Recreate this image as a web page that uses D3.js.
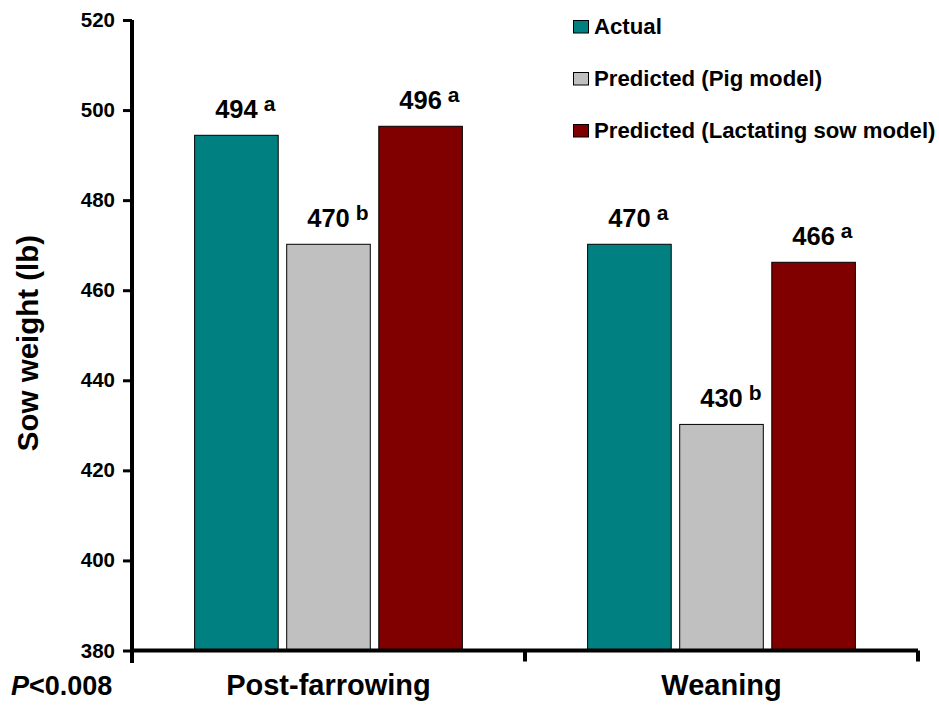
<!DOCTYPE html>
<html>
<head>
<meta charset="utf-8">
<script src="https://cdn.jsdelivr.net/npm/d3@7"></script>
<style>
  html, body { margin: 0; padding: 0; background: #fff; }
  svg { display: block; font-family: "Liberation Sans", Arial, sans-serif; font-weight: bold; }
</style>
</head>
<body>
<svg id="chart" width="939" height="711"></svg>
<script>
// ---- data ----
const categories = ["Post-farrowing", "Weaning"];
const seriesNames = ["Actual", "Predicted (Pig model)", "Predicted (Lactating sow model)"];
const seriesColors = ["#008080", "#C0C0C0", "#800000"];
const actual = [494.4, 470.2];
const predictedPig = [470.2, 430.2];
const predictedSow = [496.4, 466.2];
const valueLabels = [["494", "470", "496"], ["470", "430", "466"]];
const letterLabels = [["a", "b", "a"], ["a", "b", "a"]];
const yTicks = [380, 400, 420, 440, 460, 480, 500, 520];
const yTitle = "Sow weight (lb)";
const pNote = "<0.008";

const seriesValues = [actual, predictedPig, predictedSow];

const svg = d3.select("#chart");

const y = d3.scaleLinear().domain([380, 520]).range([650.5, 20]);
const x0 = d3.scaleBand().domain(categories).range([132, 918]).padding(0);
const x1 = d3.scaleBand().domain(seriesNames).range([0, x0.bandwidth()])
  .paddingInner(0.0923).paddingOuter(0.68);

// bars
const groups = svg.selectAll("g.cat").data(categories).enter().append("g")
  .attr("class", "cat")
  .attr("transform", d => `translate(${x0(d)},0)`);

groups.each(function(cat, ci) {
  const g = d3.select(this);
  const rows = seriesNames.map((s, si) => ({ s, si, v: seriesValues[si][ci] }));
  g.selectAll("rect").data(rows).enter().append("rect")
    .attr("x", d => x1(d.s))
    .attr("y", d => y(d.v))
    .attr("width", x1.bandwidth())
    .attr("height", d => y(380) - y(d.v))
    .attr("fill", d => seriesColors[d.si])
    .attr("stroke", "#000")
    .attr("stroke-width", 1);

  rows.forEach(d => {
    const cx = x1(d.s) + x1.bandwidth() / 2;
    const base = y(d.v) - 17;
    const t = g.append("text")
      .attr("x", cx).attr("y", base)
      .attr("text-anchor", "middle")
      .attr("font-size", 25.5)
      .attr("fill", "#000")
      .text(valueLabels[ci][d.si]);
    const w = t.node().getComputedTextLength();
    g.append("text")
      .attr("x", cx + w / 2 + 6).attr("y", base - 7)
      .attr("font-size", 21)
      .attr("fill", "#000")
      .text(letterLabels[ci][d.si]);
  });
});

// y axis
const yAxis = d3.axisLeft(y).tickValues(yTicks).tickSize(9).tickPadding(8).tickFormat(d3.format("d"));
const ga = svg.append("g").attr("transform", "translate(132,0)").call(yAxis)
  .attr("font-size", 20).attr("font-family", "'Liberation Sans', Arial, sans-serif");
ga.select(".domain").attr("stroke", "#000").attr("stroke-width", 4).attr("d", `M0,${y(520)}V663`);
ga.selectAll(".tick line").attr("stroke", "#000").attr("stroke-width", 3);
ga.selectAll(".tick text").attr("font-size", 20.5)
  .attr("font-weight", "bold").attr("fill", "#000");

// x axis
const xAxis = d3.axisBottom(x0).tickValues([]).tickSizeOuter(0);
const gx = svg.append("g").attr("transform", `translate(0,${y(380)})`).call(xAxis);
gx.select(".domain").attr("stroke", "#000").attr("stroke-width", 4).attr("d", `M130,0H918`);
// band boundary ticks
const boundaries = [x0.range()[0], x0(categories[1]), x0.range()[1]];
gx.selectAll("line.bt").data(boundaries).enter().append("line")
  .attr("class", "bt")
  .attr("x1", d => d).attr("x2", d => d)
  .attr("y1", 0).attr("y2", 11)
  .attr("stroke", "#000").attr("stroke-width", 4);

// category labels
svg.selectAll("text.cat").data(categories).enter().append("text")
  .attr("class", "cat")
  .attr("x", d => x0(d) + x0.bandwidth() / 2)
  .attr("y", 695)
  .attr("text-anchor", "middle")
  .attr("font-size", 29)
  .attr("fill", "#000")
  .text(d => d);

// P note
const pn = svg.append("text").attr("x", 11).attr("y", 695).attr("font-size", 27).attr("fill", "#000");
pn.append("tspan").attr("font-style", "italic").text("P");
pn.append("tspan").text(pNote);

// y title
svg.append("text")
  .attr("transform", "translate(38,343) rotate(-90)")
  .attr("text-anchor", "middle")
  .attr("font-size", 29.5)
  .attr("fill", "#000")
  .text(yTitle);

// legend
const lg = svg.append("g").attr("class", "legend");
seriesNames.forEach((s, i) => {
  const base = 34 + i * 52;
  lg.append("rect").attr("x", 573.5).attr("y", base - 13.5).attr("width", 15).attr("height", 12.5)
    .attr("fill", seriesColors[i]).attr("stroke", "#000").attr("stroke-width", 1);
  lg.append("text").attr("x", 594).attr("y", base).attr("font-size", 22.2).attr("fill", "#000").text(s);
});
</script>
</body>
</html>
